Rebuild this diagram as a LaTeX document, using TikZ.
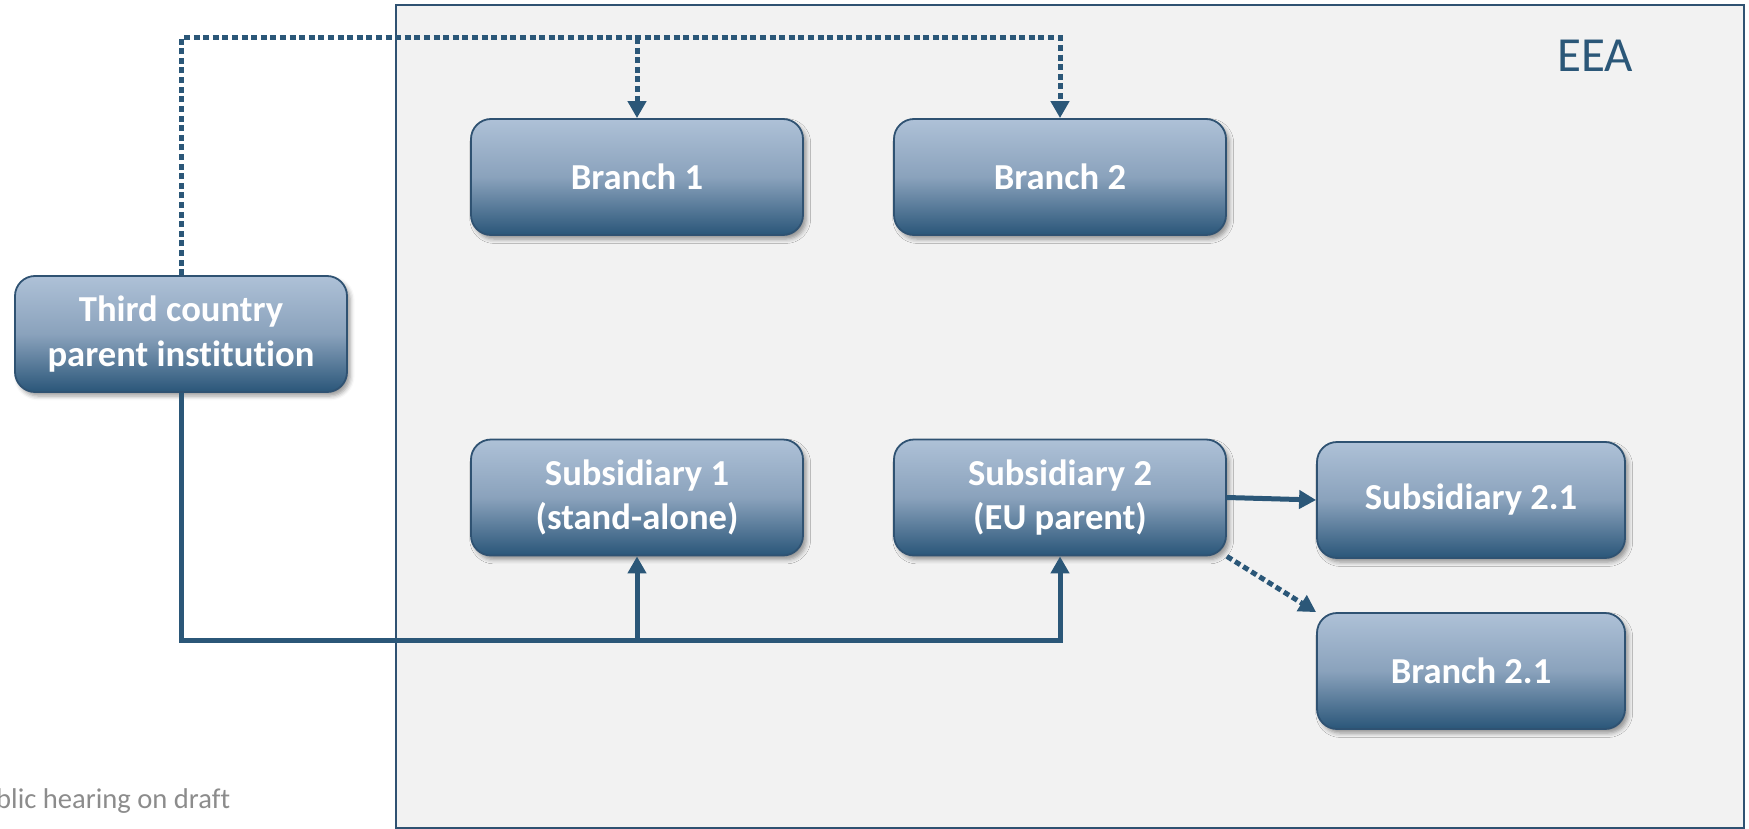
\documentclass[tikz,border=0pt]{standalone}
\usepackage{fontspec}
\setmainfont{Carlito}[Ligatures={NoCommon,NoRare,NoDiscretionary}]
\usetikzlibrary{arrows.meta,shadows.blur}

\definecolor{linkblue}{HTML}{2B5778}
\definecolor{boxedge}{HTML}{2F5272}
\definecolor{boxtop}{HTML}{AEC1D7}
\definecolor{boxmid}{HTML}{8AA2BC}
\definecolor{boxbot}{HTML}{2A5679}
\definecolor{areafill}{HTML}{F2F2F2}
\definecolor{notegray}{HTML}{8C8C8C}

\tikzset{
  entity/.style={rectangle, rounded corners=10pt, draw=boxedge, line width=0.9pt,
    top color=boxtop, bottom color=boxbot, middle color=boxmid,
    text=white, align=center, inner sep=0pt,
    font=\fontsize{18.3}{22.3}\selectfont\bfseries,
    blur shadow={shadow xshift=1.6pt, shadow yshift=-2pt, shadow blur radius=2.2pt, shadow opacity=40}},
  wide/.style={minimum width=166pt, minimum height=58pt},
  narrow/.style={minimum width=154pt, minimum height=58pt},
  link/.style={draw=linkblue, line width=2.5pt},
  dotlink/.style={link, dash pattern=on 3pt off 1.8pt},
  tip/.style={-{Triangle[width=9pt,length=8.5pt]}},
}

\begin{document}
\begin{tikzpicture}[x=0.5pt, y=-0.5pt]
  \useasboundingbox (0,0) rectangle (1749,829);
  \clip (0,0) rectangle (1749,829);

  % EEA area
  \path[fill=areafill, draw=boxedge, line width=1pt] (396,5) rectangle (1744,828);
  \node[text=linkblue, font=\fontsize{24.5}{29}\selectfont] (eea) at (1595,56) {EEA};

  % side note, running off the left edge
  \node[anchor=base west, text=notegray, inner sep=0pt, font=\fontsize{14.3}{17}\selectfont]
    (note) at (-34,808) {Public hearing on draft};

  % entities
  \node[entity, wide] (third) at (181,334) {Third country\\parent institution};
  \node[entity, wide] (b1) at (637,177) {Branch 1};
  \node[entity, wide] (b2) at (1060,177) {Branch 2};
  \node[entity, wide] (s1) at (637,497.5) {Subsidiary 1\\(stand-alone)};
  \node[entity, wide] (s2) at (1060,497.5) {Subsidiary 2\\(EU parent)};
  \node[entity, narrow] (s21) at (1471,500) {Subsidiary 2.1};
  \node[entity, narrow] (b21) at (1471,671) {Branch 2.1};

  % branch links (dotted)
  \coordinate (topline) at (181,38);
  \draw[dotlink, tip] (third.north) -- (topline) -| (b2.north);
  \draw[dotlink, tip] (b1.north |- topline) -- (b1.north);

  % subsidiary links (solid)
  \coordinate (botline) at (181,640);
  \draw[link, tip] (third.south) -- (botline) -| (s2.south);
  \draw[link, tip] (s1.south |- botline) -- (s1.south);

  % links from Subsidiary 2
  \draw[link, tip] (s2.east) -- (s21.west);
  \draw[dotlink, tip] (s2.south east) -- (b21.north west);
\end{tikzpicture}
\end{document}
